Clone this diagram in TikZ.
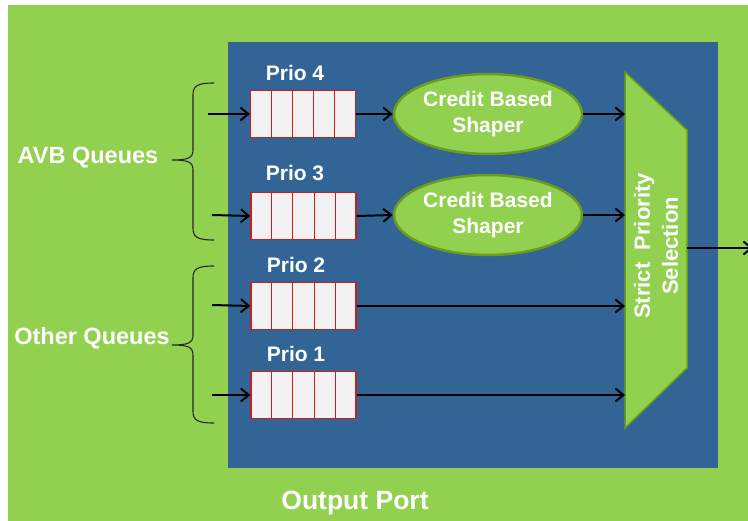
\documentclass[tikz,border=0pt]{standalone}
\usepackage{fontspec}
\setmainfont{Liberation Sans}
\usetikzlibrary{arrows.meta,calc,shapes.geometric}
\definecolor{portgreen}{RGB}{146,208,80}
\definecolor{portblue}{RGB}{50,101,150}
\definecolor{rimgreen}{RGB}{106,156,30}
\definecolor{cellred}{RGB}{200,30,30}
\definecolor{cellgrey}{RGB}{242,242,242}
\begin{document}
\begin{tikzpicture}[x=1pt,y=-1pt,
  lbl/.style={text=white,font=\bfseries\fontsize{21}{26}\selectfont,inner sep=0pt},
  sidelbl/.style={text=white,font=\bfseries\fontsize{23.5}{28}\selectfont,inner sep=0pt},
  biglbl/.style={text=white,font=\bfseries\fontsize{26.5}{30}\selectfont,inner sep=0pt},
  queue/.style={draw=cellred,fill=cellgrey,line width=1.2pt,minimum width=105pt,minimum height=47pt,inner sep=0pt},
  shaper/.style={ellipse,draw=rimgreen,fill=portgreen,line width=2.5pt,minimum width=188pt,minimum height=80pt,inner sep=0pt,align=center,text=white,font=\bfseries\fontsize{21}{26}\selectfont},
  selector/.style={draw=rimgreen,fill=portgreen,line width=1.5pt,line join=miter},
  flow/.style={line width=2pt,-{Straight Barb[length=8pt,width=13pt,line width=2pt]}},
  bracket/.style={line width=1.1pt,draw=black!85}
]
\useasboundingbox (0,0) rectangle (748,521);

% outer port and inner area
\fill[portgreen] (8,5) rectangle (760,530);
\fill[portblue] (228,42) rectangle (718,468);

% queues
\node[queue] (q4) at (303,114) {};
\node[queue] (q3) at (303.5,216) {};
\node[queue] (q2) at (303.5,306) {};
\node[queue] (q1) at (303.5,395) {};
\foreach \q in {q4,q3,q2,q1}
  \foreach \k in {1,...,4}
    \draw[cellred,line width=1pt] ($(\q.north west)!\k/5!(\q.north east)$) -- ($(\q.south west)!\k/5!(\q.south east)$);

\node[lbl] (p4) at (295,73) {Prio 4};
\node[lbl] (p3) at (295,173) {Prio 3};
\node[lbl] (p2) at (296,265) {Prio 2};
\node[lbl] (p1) at (296,354) {Prio 1};

% shapers
\node[shaper] (e4) at (488,114) {Credit Based\\Shaper};
\node[shaper] (e3) at (488,215) {Credit Based\\Shaper};

% strict priority selector
\coordinate (sA) at (625,72);
\coordinate (sB) at (687,130);
\coordinate (sC) at (687,368);
\coordinate (sD) at (625,428);
\draw[selector] (sA) -- (sB) -- (sC) -- (sD) -- cycle;
\node[lbl,rotate=90,align=center,font=\bfseries\fontsize{22}{28}\selectfont] (sel) at (656,246) {Strict\ \ Priority\\Selection};
\coordinate (selOut) at (687,248);
\coordinate (portOut) at (753,248);

% inputs
\coordinate (in4) at (208,114);
\coordinate (in3) at (212,215);
\coordinate (in2) at (212,305);
\coordinate (in1) at (212,395);
\draw[flow] (in4) -- (q4.west);
\draw[flow] (in3) -- (q3.west);
\draw[flow] (in2) -- (q2.west);
\draw[flow] (in1) -- (q1.west);

% connectors
\draw[flow] (q4.east) -- (e4.west);
\draw[flow] (q3.east) -- (e3.west);
\draw[flow] (e4.east) -- (e4.east -| sA);
\draw[flow] (e3.east) -- (e3.east -| sA);
\draw[flow] (q2.east) -- (q2.east -| sA);
\draw[flow] (q1.east) -- (q1.east -| sA);
\draw[flow] (selOut) -- (portOut);

% braces
\draw[bracket] (214,83) .. controls (197,83) and (193,86) .. (193,95) -- (193,150)
  .. controls (193,158) and (188,160) .. (172,160)
  .. controls (188,160) and (193,162) .. (193,170) -- (193,228)
  .. controls (193,237) and (197,240) .. (214,240);
\draw[bracket] (214,266) .. controls (197,266) and (193,269) .. (193,278) -- (193,335)
  .. controls (193,343) and (188,345) .. (172,345)
  .. controls (188,345) and (193,347) .. (193,355) -- (193,411)
  .. controls (193,420) and (197,423) .. (214,423);

\node[sidelbl] (avb) at (88,158) {AVB\ Queues};
\node[sidelbl] (oth) at (92,338) {Other Queues};
\node[biglbl] (port) at (355,503) {Output Port};
\end{tikzpicture}
\end{document}
